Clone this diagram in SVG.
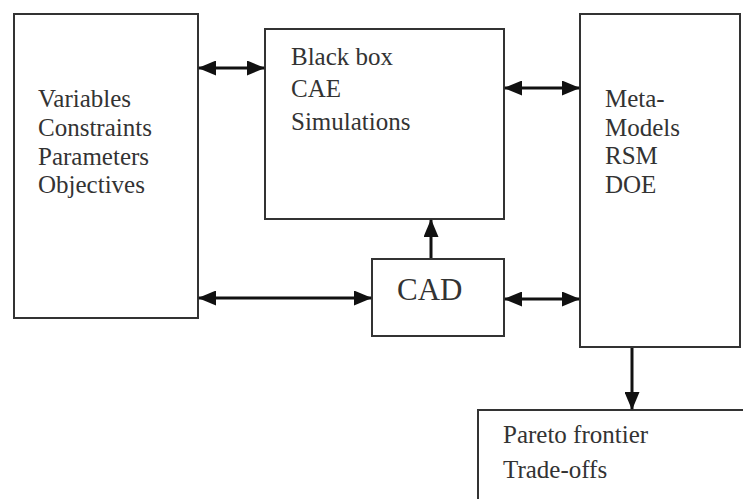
<svg xmlns="http://www.w3.org/2000/svg" width="743" height="499" viewBox="0 0 743 499">
  <defs>
    <style>
      .box { fill: #ffffff; stroke: #333333; stroke-width: 2; }
      .lbl { font-family: "Liberation Serif", "Times New Roman", serif; font-size: 25px; fill: #333333; }
      .big { font-size: 31px; }
      .link { stroke: #111111; stroke-width: 3; fill: none; }
    </style>
    <marker id="head" viewBox="0 0 18 15" refX="17" refY="7.5" markerWidth="18" markerHeight="15" markerUnits="userSpaceOnUse" orient="auto-start-reverse">
      <path d="M0,0 L18,7.5 L0,15 Z" fill="#111111"/>
    </marker>
  </defs>
  <rect width="743" height="499" fill="#ffffff"/>

  <g id="inputs">
    <rect class="box" x="14" y="14" width="184" height="304"/>
    <text class="lbl" x="38" y="107">Variables</text>
    <text class="lbl" x="38" y="136">Constraints</text>
    <text class="lbl" x="38" y="165">Parameters</text>
    <text class="lbl" x="38" y="193">Objectives</text>
  </g>

  <g id="blackbox">
    <rect class="box" x="265" y="29" width="239" height="190"/>
    <text class="lbl" x="291" y="65">Black box</text>
    <text class="lbl" x="291" y="97">CAE</text>
    <text class="lbl" x="291" y="130">Simulations</text>
  </g>

  <g id="cad">
    <rect class="box" x="372" y="259" width="132" height="77"/>
    <text class="lbl big" x="397" y="300">CAD</text>
  </g>

  <g id="metamodels">
    <rect class="box" x="580" y="14" width="160" height="333"/>
    <text class="lbl" x="605" y="107">Meta-</text>
    <text class="lbl" x="605" y="136">Models</text>
    <text class="lbl" x="605" y="164">RSM</text>
    <text class="lbl" x="605" y="193">DOE</text>
  </g>

  <g id="pareto">
    <path class="box" d="M478,505 V410 H750"/>
    <text class="lbl" x="503" y="443">Pareto frontier</text>
    <text class="lbl" x="503" y="478">Trade-offs</text>
  </g>

  <g id="connectors">
    <line class="link" x1="199" y1="68" x2="264" y2="68" marker-start="url(#head)" marker-end="url(#head)"/>
    <line class="link" x1="199" y1="298" x2="371" y2="298" marker-start="url(#head)" marker-end="url(#head)"/>
    <line class="link" x1="431" y1="258" x2="431" y2="220" marker-end="url(#head)"/>
    <line class="link" x1="505" y1="88" x2="579" y2="88" marker-start="url(#head)" marker-end="url(#head)"/>
    <line class="link" x1="505" y1="299" x2="579" y2="299" marker-start="url(#head)" marker-end="url(#head)"/>
    <line class="link" x1="632" y1="348" x2="632" y2="409" marker-end="url(#head)"/>
  </g>
</svg>
